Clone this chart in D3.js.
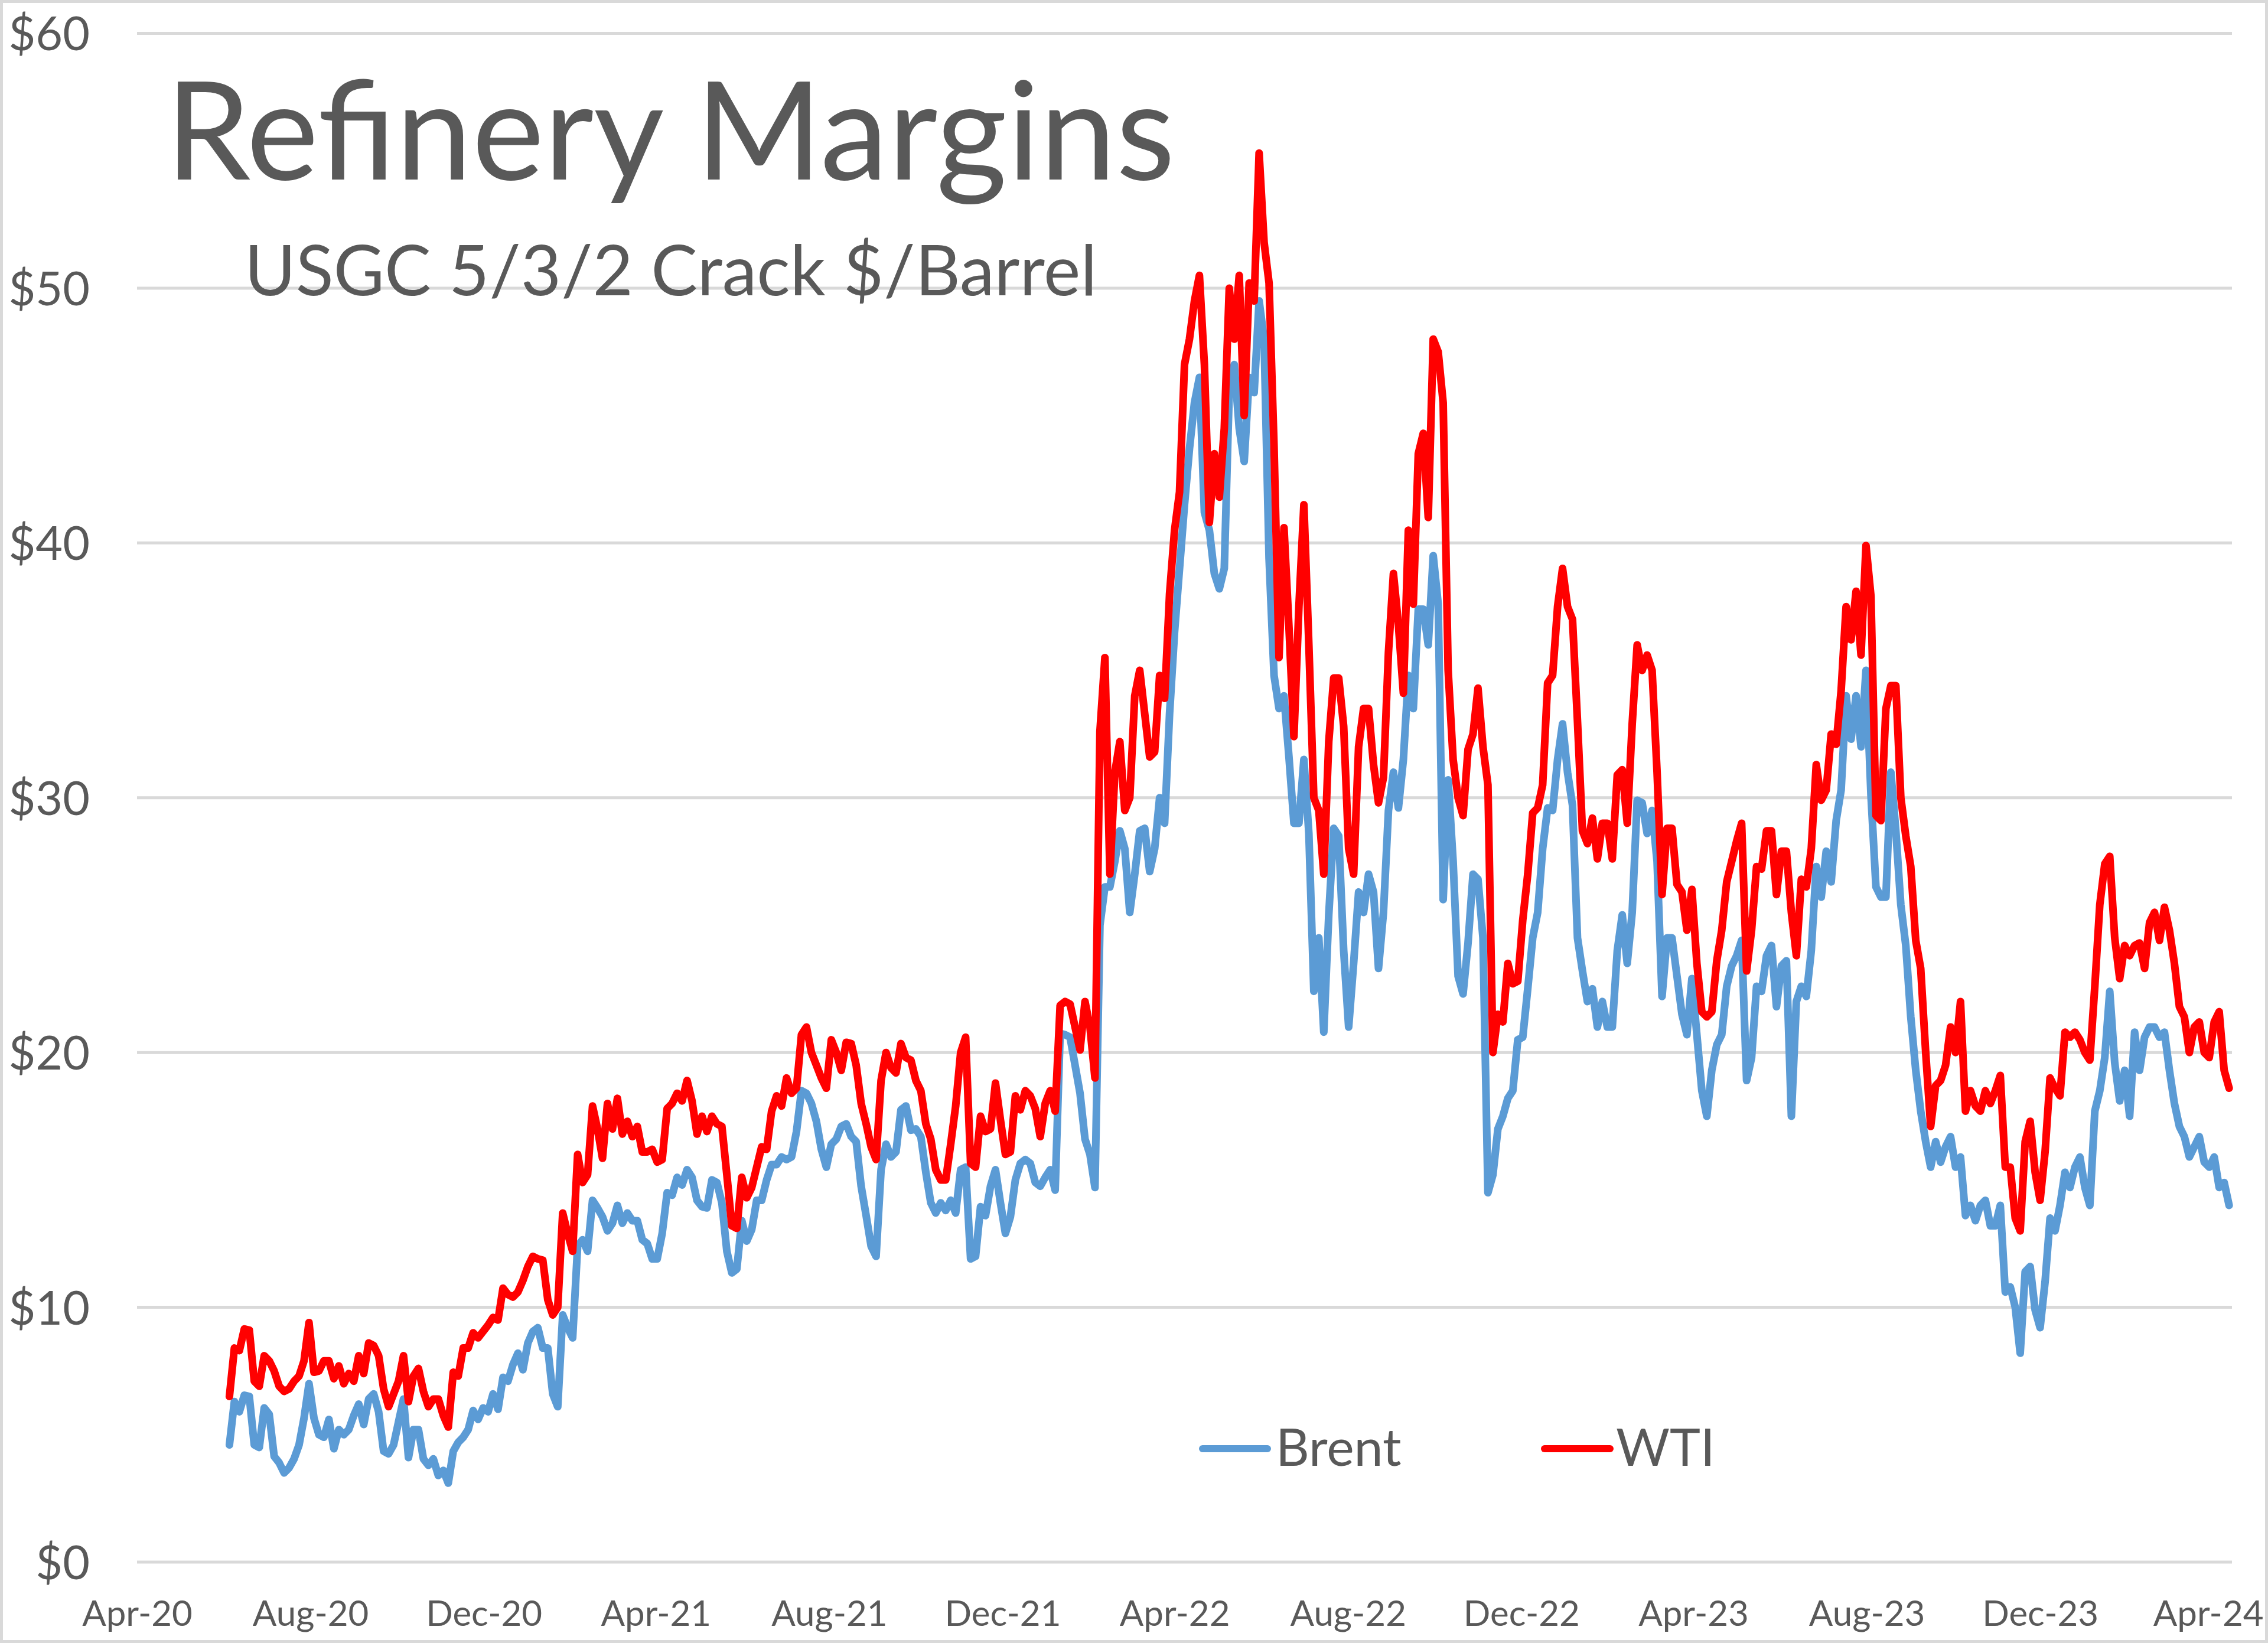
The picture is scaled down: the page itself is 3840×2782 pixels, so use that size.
<!DOCTYPE html>
<html><head><meta charset="utf-8">
<script src="https://cdn.jsdelivr.net/npm/d3@7"></script>
<style>html,body{margin:0;padding:0;background:#fff;overflow:hidden}</style>
</head><body>
<svg id="chart" width="3840" height="2782"></svg>
<script>
// ---- data: readings every 3.5 days, first reading 2020-06-05 ----
const startDate = "2020-06-05";
const stepHours = 84;
const brent = [
/*0*/ 4.6,6.3,5.9,6.55,6.5,4.6,4.5,6.05,5.8,4.15,
/*10*/ 3.9,3.5,3.7,4.05,4.6,5.65,7.0,5.65,5.0,4.9,
/*20*/ 5.6,4.45,5.2,5.0,5.2,5.75,6.2,5.4,6.4,6.6,
/*30*/ 5.9,4.35,4.25,4.6,5.5,6.4,4.1,5.2,5.2,4.05,
/*40*/ 3.8,4.05,3.4,3.6,3.1,4.35,4.7,4.9,5.2,5.95,
/*50*/ 5.6,6.05,5.9,6.6,6.0,7.25,7.1,7.75,8.2,7.55,
/*60*/ 8.6,9.05,9.2,8.4,8.4,6.6,6.1,9.7,9.2,8.8,
/*70*/ 12.4,12.65,12.2,14.2,13.9,13.55,13.0,13.3,14.0,13.3,
/*80*/ 13.7,13.4,13.4,12.65,12.5,11.9,11.9,12.9,14.5,14.4,
/*90*/ 15.1,14.8,15.4,15.1,14.2,13.95,13.9,15.0,14.9,14.1,
/*100*/ 12.2,11.35,11.5,13.4,12.6,13.05,14.2,14.2,15.0,15.6,
/*110*/ 15.6,15.9,15.8,15.9,16.9,18.5,18.4,18.0,17.3,16.2,
/*120*/ 15.5,16.4,16.6,17.1,17.2,16.7,16.5,14.75,13.6,12.4,
/*130*/ 12.0,15.4,16.4,15.9,16.1,17.75,17.9,16.95,17.0,16.7,
/*140*/ 15.3,14.1,13.7,14.1,13.8,14.2,13.7,15.4,15.5,11.9,
/*150*/ 12.0,13.95,13.6,14.75,15.4,14.1,12.9,13.55,15.0,15.65,
/*160*/ 15.8,15.65,14.9,14.75,15.1,15.4,14.6,20.75,20.7,20.6,
/*170*/ 19.5,18.4,16.6,16.0,14.7,25.0,26.5,26.5,27.5,28.7,
/*180*/ 28.0,25.5,27.0,28.7,28.8,27.1,28.0,30.0,29.0,33.3,
/*190*/ 36.5,39.0,41.5,43.7,45.5,46.5,41.2,40.5,38.8,38.2,
/*200*/ 39.0,46.0,47.0,44.5,43.2,46.5,45.9,49.5,48.0,39.4,
/*210*/ 34.8,33.5,34.0,31.6,29.0,29.0,31.5,28.6,22.4,24.5,
/*220*/ 20.8,25.4,28.8,28.5,24.0,21.0,23.5,26.3,25.5,27.0,
/*230*/ 26.3,23.3,25.5,29.5,31.0,29.6,31.5,34.8,33.5,37.4,
/*240*/ 37.4,36.0,39.5,37.6,26.0,30.7,27.5,23.0,22.3,24.3,
/*250*/ 27.0,26.8,24.5,14.5,15.2,17.0,17.5,18.2,18.5,20.5,
/*260*/ 20.6,22.5,24.5,25.5,28.0,29.6,29.5,31.5,32.9,31.0,
/*270*/ 29.7,24.5,23.2,22.0,22.5,21.0,22.0,21.0,21.0,24.0,
/*280*/ 25.4,23.5,25.5,29.9,29.8,28.6,29.5,27.5,22.2,24.5,
/*290*/ 24.5,23.0,21.5,20.7,22.9,20.7,18.5,17.5,19.3,20.3,
/*300*/ 20.7,22.6,23.4,23.8,24.4,18.9,19.8,22.6,22.4,23.8,
/*310*/ 24.2,21.8,23.4,23.6,17.5,22.0,22.6,22.2,24.0,27.3,
/*320*/ 26.1,27.9,26.7,29.1,30.3,34.0,32.3,34.0,32.0,35.0,
/*330*/ 30.1,26.5,26.1,26.1,31.0,28.7,25.8,24.2,21.4,19.3,
/*340*/ 17.7,16.5,15.5,16.5,15.7,16.3,16.7,15.5,15.9,13.6,
/*350*/ 14.0,13.4,14.0,14.2,13.2,13.2,14.0,10.6,10.8,10.0,
/*360*/ 8.2,11.4,11.6,9.9,9.2,11.0,13.5,13.0,14.0,15.3,
/*370*/ 14.7,15.5,15.9,14.7,14.0,17.7,18.5,19.8,22.4,19.6,
/*380*/ 18.1,19.3,17.5,20.8,19.3,20.6,21.0,21.0,20.6,20.8,
/*390*/ 19.3,18.0,17.1,16.7,15.9,16.3,16.7,15.7,15.5,15.9,
/*400*/ 14.7,14.9,14.0];
const wti = [
/*0*/ 6.5,8.4,8.3,9.15,9.1,7.1,6.9,8.1,7.9,7.5,
/*10*/ 6.9,6.7,6.8,7.1,7.3,7.9,9.4,7.45,7.5,7.9,
/*20*/ 7.9,7.2,7.7,7.0,7.4,7.1,8.1,7.4,8.6,8.5,
/*30*/ 8.1,6.8,6.1,6.6,7.1,8.1,6.3,7.3,7.6,6.7,
/*40*/ 6.1,6.4,6.4,5.75,5.3,7.45,7.3,8.4,8.4,9.0,
/*50*/ 8.8,9.05,9.3,9.6,9.5,10.75,10.5,10.4,10.6,11.05,
/*60*/ 11.6,12.0,11.9,11.85,10.3,9.7,10.0,13.7,12.9,12.2,
/*70*/ 16.0,14.9,15.2,17.9,17.0,15.85,18.0,17.0,18.2,16.8,
/*80*/ 17.3,16.7,17.1,16.1,16.1,16.2,15.7,15.8,17.8,18.0,
/*90*/ 18.4,18.1,18.9,18.1,16.8,17.5,16.9,17.5,17.2,17.1,
/*100*/ 15.2,13.2,13.1,15.1,14.3,14.7,15.5,16.3,16.2,17.7,
/*110*/ 18.3,17.9,19.0,18.4,18.6,20.7,21.0,20.0,19.5,19.0,
/*120*/ 18.6,20.5,20.0,19.3,20.4,20.35,19.5,18.0,17.2,16.3,
/*130*/ 15.8,18.9,20.0,19.4,19.2,20.35,19.8,19.7,18.9,18.5,
/*140*/ 17.2,16.6,15.4,15.0,15.0,16.4,17.9,20.0,20.6,15.65,
/*150*/ 15.5,17.5,16.9,17.0,18.8,17.35,16.0,16.1,18.3,17.75,
/*160*/ 18.5,18.3,17.8,16.7,18.0,18.5,17.7,21.85,22.0,21.9,
/*170*/ 21.0,20.1,22.0,21.0,19.0,32.6,35.5,27.0,31.0,32.2,
/*180*/ 29.5,30.0,34.0,35.0,33.3,31.6,31.8,34.8,33.9,38.0,
/*190*/ 40.5,42.0,47.0,48.0,49.5,50.5,47.0,40.8,43.5,41.8,
/*200*/ 44.5,50.0,48.0,50.5,45.0,50.2,49.5,55.3,51.8,50.2,
/*210*/ 43.8,35.5,40.6,36.7,32.4,37.5,41.5,36.0,30.0,29.5,
/*220*/ 27.0,32.2,34.7,34.7,32.8,28.0,27.0,32.0,33.5,33.5,
/*230*/ 31.3,29.8,30.8,35.7,38.8,36.8,34.1,40.5,37.6,43.5,
/*240*/ 44.3,41.0,48.0,47.5,45.5,35.0,31.5,30.0,29.3,31.9,
/*250*/ 32.5,34.3,32.0,30.5,20.0,21.5,21.2,23.5,22.7,22.8,
/*260*/ 25.2,27.0,29.4,29.6,30.5,34.5,34.8,37.5,39.0,37.5,
/*270*/ 37.0,33.0,28.7,28.2,29.2,27.6,29.0,29.0,27.6,30.9,
/*280*/ 31.1,29.0,32.9,36.0,35.0,35.6,35.0,31.0,26.2,28.8,
/*290*/ 28.8,26.6,26.3,24.8,26.4,23.5,21.6,21.4,21.6,23.6,
/*300*/ 24.8,26.7,27.5,28.3,29.0,23.2,24.8,27.3,27.2,28.7,
/*310*/ 28.7,26.2,27.9,27.9,25.5,23.8,26.8,26.5,28.0,31.3,
/*320*/ 29.9,30.3,32.5,32.1,34.2,37.5,36.2,38.1,35.6,39.9,
/*330*/ 37.9,29.3,29.1,33.5,34.4,34.4,30.0,28.5,27.3,24.4,
/*340*/ 23.3,20.0,17.1,18.7,18.9,19.5,21.0,20.0,22.0,17.7,
/*350*/ 18.5,17.9,17.7,18.5,18.0,18.5,19.1,15.5,15.5,13.5,
/*360*/ 13.0,16.5,17.3,15.3,14.2,16.1,19.0,18.6,18.3,20.8,
/*370*/ 20.6,20.8,20.5,20.0,19.7,22.6,25.8,27.4,27.7,24.5,
/*380*/ 22.9,24.2,23.8,24.2,24.3,23.3,25.1,25.5,24.4,25.7,
/*390*/ 24.8,23.5,21.8,21.4,20.0,21.0,21.2,20.0,19.8,21.2,
/*400*/ 21.6,19.3,18.6];
const seriesNames = ["Brent", "WTI"];
const yTicks = [0, 10, 20, 30, 40, 50, 60];
const xTickLabels = ["Apr-20","Aug-20","Dec-20","Apr-21","Aug-21","Dec-21","Apr-22",
                     "Aug-22","Dec-22","Apr-23","Aug-23","Dec-23","Apr-24"];
const xDomain = ["2020-04-01", "2024-04-14"];
const titleText = "Refinery Margins";
const subtitleText = "USGC 5/3/2 Crack $/Barrel";

// ---- styling / layout ----
const W = 3840, H = 2782;
const colors = {Brent: "#5B9BD5", WTI: "#FF0000"};
const textColor = "#595959", gridColor = "#D9D9D9";
const font = "Lato, 'Open Sans', sans-serif";
const plot = {left: 232, right: 3779, top: 56.5, bottom: 2645};

const parseISO = d3.timeParse("%Y-%m-%d");
const parseTick = d3.timeParse("%b-%y");
const fmtTick = d3.timeFormat("%b-%y");
const t0 = parseISO(startDate);
const n = Math.min(brent.length, wti.length);
const dates = d3.range(n).map(i => d3.timeHour.offset(t0, i * stepHours));
const data = {
  Brent: dates.map((d, i) => ({date: d, value: brent[i]})),
  WTI: dates.map((d, i) => ({date: d, value: wti[i]}))
};

const svg = d3.select("#chart");
svg.append("rect").attr("x", 0).attr("y", 0).attr("width", W).attr("height", H).attr("fill", "#fff");
svg.append("rect").attr("x", 2.5).attr("y", 2.5).attr("width", W - 5).attr("height", H - 5)
  .attr("fill", "none").attr("stroke", gridColor).attr("stroke-width", 5);

const x = d3.scaleTime().domain(xDomain.map(parseISO)).range([plot.left, plot.right]);
const y = d3.scaleLinear().domain([0, 60]).range([plot.bottom, plot.top]);

// gridlines
svg.append("g").selectAll("line").data(yTicks).join("line")
  .attr("x1", plot.left).attr("x2", plot.right)
  .attr("y1", d => y(d)).attr("y2", d => y(d))
  .attr("stroke", gridColor).attr("stroke-width", 5);

// y axis labels
const yAxis = svg.append("g").attr("transform", "translate(152,0)")
  .call(d3.axisLeft(y).tickValues(yTicks).tickFormat(d => "$" + d).tickSize(0).tickPadding(0));
yAxis.select(".domain").remove();
yAxis.selectAll("text").attr("font-family", font).attr("font-size", 79)
  .attr("fill", textColor).attr("dy", "0.36em");

// x axis labels
const xAxis = svg.append("g")
  .call(d3.axisBottom(x).tickValues(xTickLabels.map(parseTick)).tickFormat(fmtTick).tickSize(0));
xAxis.select(".domain").remove();
xAxis.selectAll("text").attr("font-family", font).attr("font-size", 60)
  .attr("fill", textColor).attr("y", 2753).attr("dy", null);
// keep the last label inside the picture
const lastTick = xAxis.selectAll(".tick").filter((d, i, nodes) => i === nodes.length - 1);
lastTick.select("text").attr("text-anchor", "end").attr("x", 3832 - x(parseTick(xTickLabels[xTickLabels.length - 1])));

// lines
const line = d3.line().x(d => x(d.date)).y(d => y(d.value));
seriesNames.forEach(name => {
  svg.append("path").datum(data[name])
    .attr("fill", "none").attr("stroke", colors[name]).attr("stroke-width", 13)
    .attr("stroke-linejoin", "round").attr("stroke-linecap", "round")
    .attr("d", line);
});

// title
svg.append("text").attr("x", 280).attr("y", 304).attr("font-family", font)
  .attr("font-size", 231).attr("fill", textColor).text(titleText);
svg.append("text").attr("x", 414).attr("y", 500).attr("font-family", font)
  .attr("font-size", 118).attr("fill", textColor).text(subtitleText);

// legend
const legendItems = [{name: "Brent", x1: 2036, x2: 2146, tx: 2160}, {name: "WTI", x1: 2615, x2: 2726, tx: 2736}];
const lg = svg.append("g");
legendItems.forEach(it => {
  lg.append("line").attr("x1", it.x1).attr("x2", it.x2).attr("y1", 2453).attr("y2", 2453)
    .attr("stroke", colors[it.name]).attr("stroke-width", 12).attr("stroke-linecap", "round");
  lg.append("text").attr("x", it.tx).attr("y", 2482).attr("font-family", font)
    .attr("font-size", 88).attr("fill", textColor).text(it.name);
});
</script>
</body></html>
